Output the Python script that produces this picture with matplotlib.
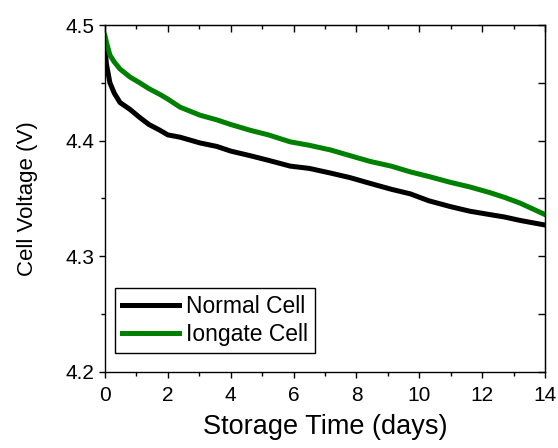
import matplotlib
matplotlib.use("Agg")
import matplotlib.pyplot as plt
from matplotlib.ticker import MultipleLocator

plt.rcParams['font.family'] = ['Liberation Sans', 'DejaVu Sans']

# storage time (days)
t_days = [0, 0.05, 0.16, 0.3, 0.48, 0.8, 1.11, 1.4, 1.75, 2.0, 2.39, 3.03,
          3.56, 4.0, 4.62, 5.2, 5.89, 6.5, 7.17, 7.8, 8.44, 9.1, 9.71, 10.3,
          10.98, 11.6, 12.25, 12.7, 13.2, 13.6, 14.0]

normal_cell = [4.481, 4.466, 4.450, 4.441, 4.433, 4.427, 4.420, 4.414, 4.409,
               4.405, 4.403, 4.398, 4.395, 4.391, 4.387, 4.383, 4.378, 4.376,
               4.372, 4.368, 4.363, 4.358, 4.354, 4.348, 4.343, 4.339, 4.336,
               4.334, 4.331, 4.329, 4.327]

iongate_cell = [4.491, 4.485, 4.474, 4.468, 4.462, 4.455, 4.450, 4.445, 4.440,
                4.436, 4.429, 4.422, 4.418, 4.414, 4.409, 4.405, 4.399, 4.396,
                4.392, 4.387, 4.382, 4.378, 4.373, 4.369, 4.364, 4.360, 4.355,
                4.351, 4.346, 4.341, 4.336]

labels = ["Normal Cell", "Iongate Cell"]

fig = plt.figure(figsize=(5.58, 4.48), dpi=100)
ax = fig.add_axes([0.188, 0.170, 0.789, 0.774])

ax.plot(t_days, normal_cell, color="black", lw=3.6, label=labels[0])
ax.plot(t_days, iongate_cell, color="#008000", lw=3.6, label=labels[1])

ax.set_xlim(0, 14)
ax.set_ylim(4.2, 4.5)
ax.xaxis.set_major_locator(MultipleLocator(2))
ax.xaxis.set_minor_locator(MultipleLocator(1))
ax.yaxis.set_major_locator(MultipleLocator(0.1))
ax.yaxis.set_minor_locator(MultipleLocator(0.05))
ax.tick_params(which="major", direction="out", length=4.5, width=1, labelsize=15)
ax.tick_params(axis="x", which="major", pad=6)
ax.tick_params(axis="y", which="major", pad=3)
ax.tick_params(which="minor", direction="out", length=3, width=1)

for sp in ax.spines.values():
    sp.set_linewidth(1)

# mirrored ticks pointing inward on top and right
top = ax.secondary_xaxis("top")
top.xaxis.set_major_locator(MultipleLocator(2))
top.xaxis.set_minor_locator(MultipleLocator(1))
top.tick_params(which="major", direction="in", length=5, width=1, labeltop=False)
top.tick_params(which="minor", direction="in", length=3, width=1)
right = ax.secondary_yaxis("right")
right.yaxis.set_major_locator(MultipleLocator(0.1))
right.yaxis.set_minor_locator(MultipleLocator(0.05))
right.tick_params(which="major", direction="in", length=5, width=1, labelright=False)
right.tick_params(which="minor", direction="in", length=5, width=1)

ax.set_xlabel("Storage Time (days)", fontsize=19.5, labelpad=6)
ax.set_ylabel("Cell Voltage (V)", fontsize=16, labelpad=20)

leg = ax.legend(loc="lower left", bbox_to_anchor=(0.023, 0.055), borderaxespad=0,
                fontsize=16.5, fancybox=False, framealpha=1, edgecolor="black",
                handlelength=2.5, handletextpad=0.3, borderpad=0.3, labelspacing=0.2)
leg.get_frame().set_linewidth(1)

fig.savefig("out.png", dpi=100)
